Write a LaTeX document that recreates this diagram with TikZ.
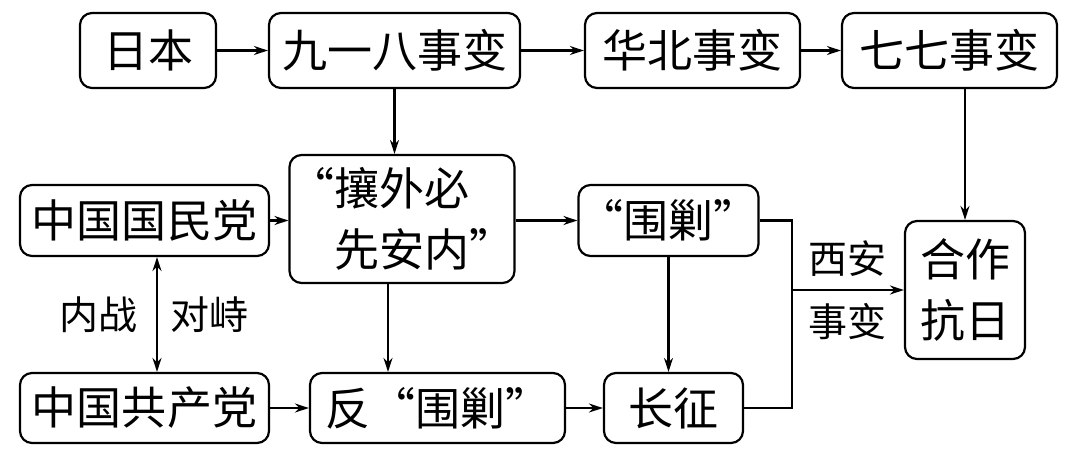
\documentclass[tikz,border=0pt]{standalone}
\usepackage{fontspec}
\usepackage{tikz}
\usetikzlibrary{calc,arrows.meta}
\newfontfamily\cjk{Noto Sans CJK SC}

\begin{document}
\begin{tikzpicture}[>={Stealth[length=7pt,width=4.5pt]}, x=0.5pt, y=-0.5pt, line width=1.1pt,
  box/.style={draw, rounded corners=6pt, inner sep=0pt,
    font=\cjk\fontsize{22.5}{30.5}\selectfont},
  tag/.style={inner sep=0pt, font=\cjk\fontsize{19.5}{22}\selectfont}]
  \useasboundingbox (0,0) rectangle (1080,472);

  \node[box, minimum width=68pt, minimum height=37.5pt] (riben) at (148,50.5) {日本};
  \node[box, minimum width=125.5pt, minimum height=37.5pt] (jiuyiba) at (394.5,50.5) {九一八事变};
  \node[box, minimum width=107.5pt, minimum height=37.5pt] (huabei) at (692.5,50.5) {华北事变};
  \node[box, minimum width=107.5pt, minimum height=37.5pt] (qiqi) at (949.5,50.5) {七七事变};

  \node[box, minimum width=124.5pt, minimum height=35.5pt] (guomindang) at (144.5,220.5) {中国国民党};
  \node[box, minimum width=99pt, minimum height=64pt, align=left] (rangwai) at (402,219)
    {“攘外必\\\hphantom{“}先安内”};
  \node[box, minimum width=79.5pt, minimum height=35.5pt] (weijiao) at (668.5,220.5) {“围剿”};
  \node[box, minimum width=60pt, minimum height=69pt, align=center] (hezuo) at (965,290) {合作\\抗日};

  \node[box, minimum width=124.5pt, minimum height=35pt] (gongchandang) at (144.5,408) {中国共产党};
  \node[box, minimum width=127.5pt, minimum height=35pt] (fanweijiao) at (437.5,408) {反“围剿”};
  \node[box, minimum width=69.5pt, minimum height=35pt] (changzheng) at (673.5,408) {长征};

  % top row
  \draw[->] (riben) -- (jiuyiba);
  \draw[->] (jiuyiba) -- (huabei);
  \draw[->] (huabei) -- (qiqi);
  \draw[->] (jiuyiba.south) -- (jiuyiba.south |- rangwai.north);
  \draw[->] (qiqi.south -| hezuo.north) -- (hezuo.north);

  % middle and bottom
  \draw[->] (guomindang.east) -- (guomindang.east -| rangwai.west);
  \draw[->] (rangwai.east |- weijiao.west) -- (weijiao.west);
  \draw[<->] ([xshift=6.25pt]guomindang.south) -- ([xshift=6.25pt]gongchandang.north)
    node[tag, midway, left=9pt] {内战}
    node[tag, midway, right=6pt] {对峙};
  \coordinate (rw) at ($(rangwai.south)+(-14,0)$);
  \draw[->] (rw) -- (rw |- fanweijiao.north);
  \draw[->] (gongchandang) -- (fanweijiao);
  \draw[->] (fanweijiao) -- (changzheng);
  \draw[->] (weijiao.south) -- (weijiao.south |- changzheng.north);

  \coordinate (xian) at (792,290);
  \draw (weijiao.east) -| (xian) |- (changzheng.east);
  \draw[->] (xian) -- (hezuo.west)
    node[tag, midway, above=6pt] {西安}
    node[tag, midway, below=6pt] {事变};
\end{tikzpicture}
\end{document}
